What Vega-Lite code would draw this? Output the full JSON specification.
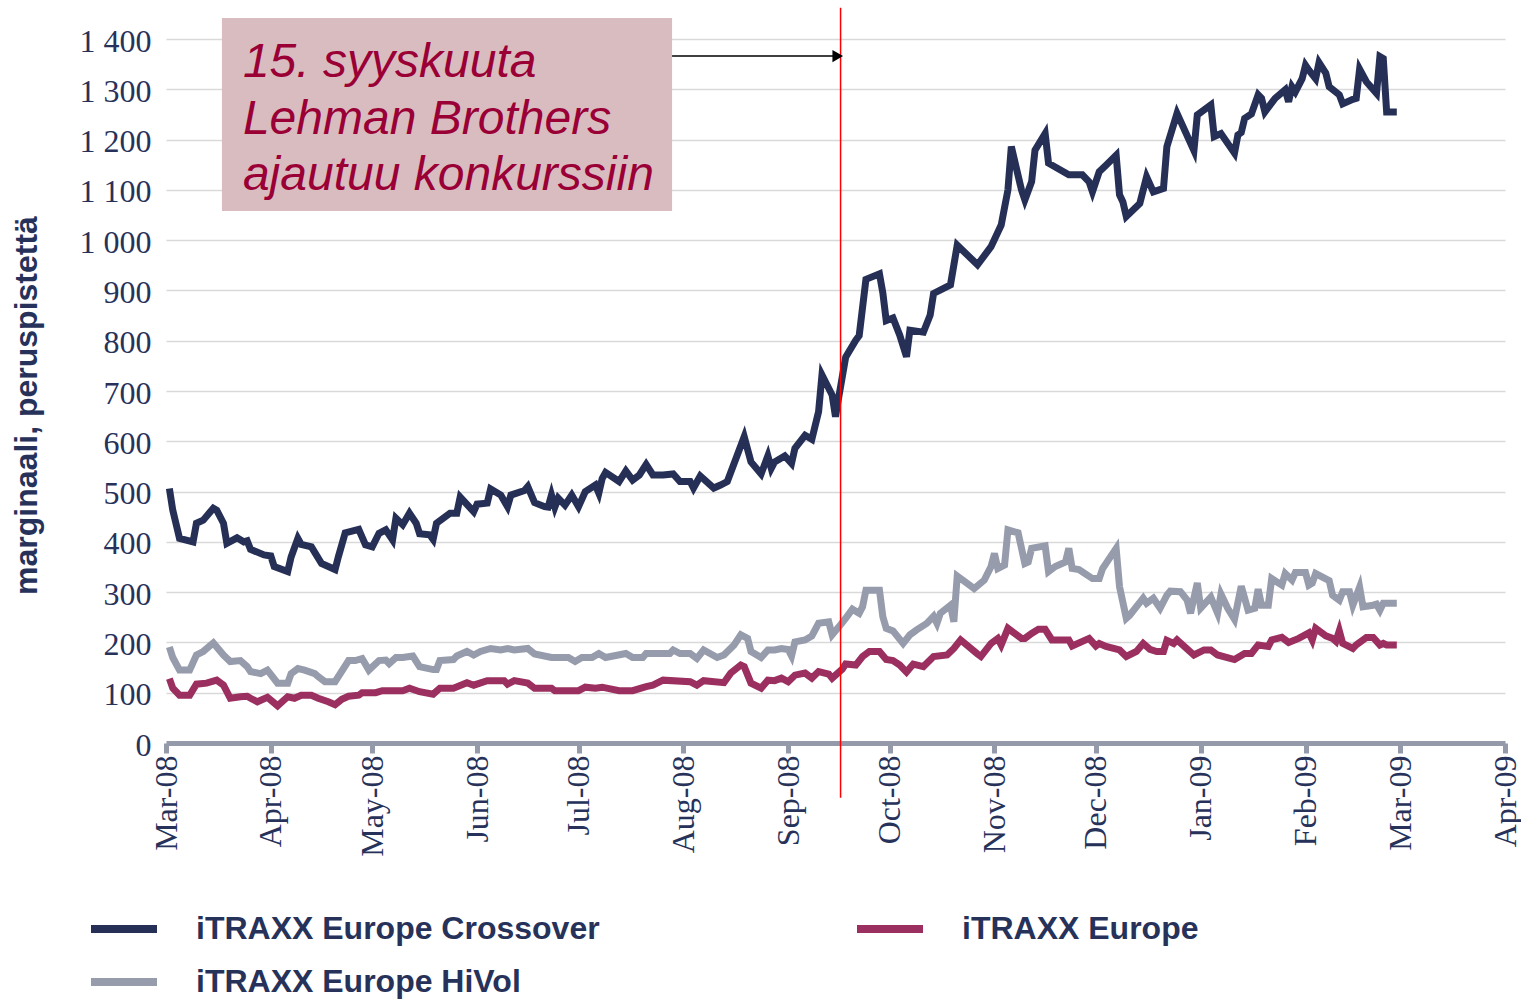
{
"$schema": "https://vega.github.io/schema/vega-lite/v6.json",
"width": 1339, "height": 704,
"autosize": {"type": "none"},
"padding": {"left": 166, "top": 39, "right": 16, "bottom": 262},
"background": "white",
"config": {"view": {"stroke": null}},
"datasets": {
"crossover": [
{"date":"2008-03-02","value":506},{"date":"2008-03-03","value":463},{"date":"2008-03-04","value":435},{"date":"2008-03-05","value":407},{"date":"2008-03-09","value":400},{"date":"2008-03-10","value":437},{"date":"2008-03-12","value":443},{"date":"2008-03-15","value":467},{"date":"2008-03-16","value":463},{"date":"2008-03-18","value":437},{"date":"2008-03-19","value":397},{"date":"2008-03-22","value":408},{"date":"2008-03-24","value":400},{"date":"2008-03-25","value":402},{"date":"2008-03-26","value":385},{"date":"2008-03-30","value":374},{"date":"2008-04-01","value":372},{"date":"2008-04-02","value":351},{"date":"2008-04-06","value":341},{"date":"2008-04-07","value":370},{"date":"2008-04-09","value":407},{"date":"2008-04-10","value":395},{"date":"2008-04-13","value":390},{"date":"2008-04-16","value":357},{"date":"2008-04-20","value":345},{"date":"2008-04-21","value":371},{"date":"2008-04-23","value":418},{"date":"2008-04-27","value":425},{"date":"2008-04-29","value":394},{"date":"2008-05-01","value":390},{"date":"2008-05-03","value":417},{"date":"2008-05-05","value":424},{"date":"2008-05-07","value":404},{"date":"2008-05-08","value":447},{"date":"2008-05-10","value":434},{"date":"2008-05-12","value":457},{"date":"2008-05-14","value":437},{"date":"2008-05-15","value":416},{"date":"2008-05-18","value":414},{"date":"2008-05-19","value":405},{"date":"2008-05-20","value":437},{"date":"2008-05-24","value":457},{"date":"2008-05-26","value":457},{"date":"2008-05-27","value":489},{"date":"2008-05-31","value":460},{"date":"2008-06-01","value":475},{"date":"2008-06-04","value":477},{"date":"2008-06-05","value":505},{"date":"2008-06-08","value":493},{"date":"2008-06-10","value":470},{"date":"2008-06-11","value":493},{"date":"2008-06-15","value":502},{"date":"2008-06-16","value":510},{"date":"2008-06-18","value":478},{"date":"2008-06-21","value":470},{"date":"2008-06-22","value":469},{"date":"2008-06-23","value":493},{"date":"2008-06-24","value":469},{"date":"2008-06-25","value":487},{"date":"2008-06-27","value":473},{"date":"2008-06-29","value":493},{"date":"2008-07-01","value":470},{"date":"2008-07-03","value":500},{"date":"2008-07-06","value":513},{"date":"2008-07-07","value":497},{"date":"2008-07-08","value":526},{"date":"2008-07-09","value":538},{"date":"2008-07-13","value":520},{"date":"2008-07-15","value":541},{"date":"2008-07-17","value":523},{"date":"2008-07-19","value":533},{"date":"2008-07-21","value":554},{"date":"2008-07-23","value":533},{"date":"2008-07-26","value":533},{"date":"2008-07-29","value":535},{"date":"2008-07-31","value":520},{"date":"2008-08-03","value":520},{"date":"2008-08-04","value":507},{"date":"2008-08-06","value":531},{"date":"2008-08-10","value":507},{"date":"2008-08-12","value":513},{"date":"2008-08-14","value":520},{"date":"2008-08-19","value":609},{"date":"2008-08-21","value":559},{"date":"2008-08-24","value":535},{"date":"2008-08-26","value":571},{"date":"2008-08-27","value":546},{"date":"2008-08-28","value":559},{"date":"2008-08-31","value":571},{"date":"2008-09-02","value":556},{"date":"2008-09-03","value":586},{"date":"2008-09-06","value":612},{"date":"2008-09-08","value":604},{"date":"2008-09-10","value":659},{"date":"2008-09-11","value":732},{"date":"2008-09-14","value":692},{"date":"2008-09-15","value":649},{"date":"2008-09-16","value":689},{"date":"2008-09-18","value":767},{"date":"2008-09-21","value":801},{"date":"2008-09-22","value":810},{"date":"2008-09-24","value":922},{"date":"2008-09-28","value":933},{"date":"2008-09-29","value":895},{"date":"2008-09-30","value":840},{"date":"2008-10-02","value":845},{"date":"2008-10-04","value":811},{"date":"2008-10-06","value":768},{"date":"2008-10-07","value":821},{"date":"2008-10-11","value":817},{"date":"2008-10-13","value":851},{"date":"2008-10-14","value":894},{"date":"2008-10-19","value":911},{"date":"2008-10-21","value":990},{"date":"2008-10-27","value":951},{"date":"2008-10-31","value":987},{"date":"2008-11-03","value":1030},{"date":"2008-11-05","value":1100},{"date":"2008-11-06","value":1186},{"date":"2008-11-09","value":1100},{"date":"2008-11-10","value":1080},{"date":"2008-11-12","value":1116},{"date":"2008-11-13","value":1179},{"date":"2008-11-16","value":1212},{"date":"2008-11-17","value":1153},{"date":"2008-11-23","value":1130},{"date":"2008-11-27","value":1130},{"date":"2008-11-29","value":1116},{"date":"2008-11-30","value":1096},{"date":"2008-12-02","value":1136},{"date":"2008-12-04","value":1149},{"date":"2008-12-07","value":1169},{"date":"2008-12-08","value":1090},{"date":"2008-12-09","value":1076},{"date":"2008-12-10","value":1047},{"date":"2008-12-14","value":1073},{"date":"2008-12-16","value":1126},{"date":"2008-12-18","value":1096},{"date":"2008-12-21","value":1103},{"date":"2008-12-22","value":1186},{"date":"2008-12-25","value":1252},{"date":"2008-12-30","value":1178},{"date":"2008-12-31","value":1249},{"date":"2009-01-04","value":1269},{"date":"2009-01-05","value":1206},{"date":"2009-01-07","value":1212},{"date":"2009-01-11","value":1173},{"date":"2009-01-12","value":1209},{"date":"2009-01-13","value":1214},{"date":"2009-01-14","value":1242},{"date":"2009-01-16","value":1251},{"date":"2009-01-18","value":1289},{"date":"2009-01-19","value":1282},{"date":"2009-01-20","value":1255},{"date":"2009-01-23","value":1282},{"date":"2009-01-26","value":1299},{"date":"2009-01-27","value":1275},{"date":"2009-01-28","value":1305},{"date":"2009-01-29","value":1295},{"date":"2009-01-31","value":1321},{"date":"2009-02-01","value":1348},{"date":"2009-02-02","value":1338},{"date":"2009-02-04","value":1321},{"date":"2009-02-05","value":1353},{"date":"2009-02-07","value":1332},{"date":"2009-02-08","value":1305},{"date":"2009-02-11","value":1289},{"date":"2009-02-12","value":1271},{"date":"2009-02-15","value":1280},{"date":"2009-02-16","value":1282},{"date":"2009-02-17","value":1340},{"date":"2009-02-19","value":1315},{"date":"2009-02-22","value":1292},{"date":"2009-02-23","value":1365},{"date":"2009-02-24","value":1361},{"date":"2009-02-25","value":1255},{"date":"2009-02-28","value":1255}
],
"europe": [
{"date":"2008-03-02","value":128},{"date":"2008-03-03","value":109},{"date":"2008-03-05","value":95},{"date":"2008-03-08","value":95},{"date":"2008-03-10","value":117},{"date":"2008-03-13","value":119},{"date":"2008-03-16","value":125},{"date":"2008-03-18","value":115},{"date":"2008-03-20","value":89},{"date":"2008-03-23","value":92},{"date":"2008-03-25","value":93},{"date":"2008-03-26","value":89},{"date":"2008-03-28","value":82},{"date":"2008-03-31","value":91},{"date":"2008-04-03","value":74},{"date":"2008-04-06","value":92},{"date":"2008-04-08","value":89},{"date":"2008-04-10","value":95},{"date":"2008-04-13","value":95},{"date":"2008-04-15","value":89},{"date":"2008-04-18","value":82},{"date":"2008-04-20","value":76},{"date":"2008-04-22","value":87},{"date":"2008-04-24","value":93},{"date":"2008-04-27","value":95},{"date":"2008-04-28","value":100},{"date":"2008-05-02","value":100},{"date":"2008-05-04","value":104},{"date":"2008-05-10","value":104},{"date":"2008-05-12","value":109},{"date":"2008-05-15","value":102},{"date":"2008-05-19","value":97},{"date":"2008-05-21","value":109},{"date":"2008-05-25","value":109},{"date":"2008-05-29","value":120},{"date":"2008-05-31","value":115},{"date":"2008-06-04","value":124},{"date":"2008-06-09","value":124},{"date":"2008-06-10","value":117},{"date":"2008-06-12","value":124},{"date":"2008-06-16","value":119},{"date":"2008-06-18","value":109},{"date":"2008-06-23","value":109},{"date":"2008-06-24","value":104},{"date":"2008-07-01","value":104},{"date":"2008-07-03","value":111},{"date":"2008-07-06","value":109},{"date":"2008-07-08","value":111},{"date":"2008-07-13","value":104},{"date":"2008-07-17","value":104},{"date":"2008-07-21","value":112},{"date":"2008-07-23","value":115},{"date":"2008-07-26","value":125},{"date":"2008-08-03","value":122},{"date":"2008-08-05","value":115},{"date":"2008-08-07","value":124},{"date":"2008-08-13","value":120},{"date":"2008-08-15","value":139},{"date":"2008-08-18","value":155},{"date":"2008-08-19","value":152},{"date":"2008-08-21","value":119},{"date":"2008-08-24","value":109},{"date":"2008-08-26","value":125},{"date":"2008-08-28","value":124},{"date":"2008-08-30","value":129},{"date":"2008-09-01","value":122},{"date":"2008-09-03","value":135},{"date":"2008-09-06","value":139},{"date":"2008-09-08","value":129},{"date":"2008-09-10","value":142},{"date":"2008-09-13","value":137},{"date":"2008-09-14","value":129},{"date":"2008-09-17","value":147},{"date":"2008-09-18","value":157},{"date":"2008-09-21","value":155},{"date":"2008-09-23","value":172},{"date":"2008-09-25","value":182},{"date":"2008-09-28","value":182},{"date":"2008-09-30","value":166},{"date":"2008-10-02","value":164},{"date":"2008-10-04","value":155},{"date":"2008-10-06","value":141},{"date":"2008-10-08","value":157},{"date":"2008-10-11","value":152},{"date":"2008-10-14","value":172},{"date":"2008-10-18","value":175},{"date":"2008-10-20","value":188},{"date":"2008-10-22","value":205},{"date":"2008-10-27","value":177},{"date":"2008-10-28","value":172},{"date":"2008-10-31","value":198},{"date":"2008-11-02","value":208},{"date":"2008-11-03","value":195},{"date":"2008-11-05","value":228},{"date":"2008-11-09","value":208},{"date":"2008-11-10","value":208},{"date":"2008-11-12","value":218},{"date":"2008-11-14","value":226},{"date":"2008-11-16","value":226},{"date":"2008-11-18","value":205},{"date":"2008-11-23","value":205},{"date":"2008-11-24","value":193},{"date":"2008-11-29","value":208},{"date":"2008-12-01","value":193},{"date":"2008-12-02","value":198},{"date":"2008-12-04","value":192},{"date":"2008-12-08","value":185},{"date":"2008-12-10","value":172},{"date":"2008-12-13","value":182},{"date":"2008-12-15","value":198},{"date":"2008-12-17","value":186},{"date":"2008-12-19","value":182},{"date":"2008-12-21","value":182},{"date":"2008-12-22","value":204},{"date":"2008-12-24","value":198},{"date":"2008-12-25","value":205},{"date":"2008-12-30","value":175},{"date":"2009-01-02","value":185},{"date":"2009-01-04","value":185},{"date":"2009-01-06","value":175},{"date":"2009-01-11","value":166},{"date":"2009-01-14","value":178},{"date":"2009-01-16","value":178},{"date":"2009-01-18","value":195},{"date":"2009-01-21","value":192},{"date":"2009-01-22","value":205},{"date":"2009-01-25","value":210},{"date":"2009-01-27","value":200},{"date":"2009-01-30","value":208},{"date":"2009-02-02","value":219},{"date":"2009-02-03","value":205},{"date":"2009-02-04","value":228},{"date":"2009-02-07","value":213},{"date":"2009-02-09","value":208},{"date":"2009-02-10","value":202},{"date":"2009-02-11","value":223},{"date":"2009-02-12","value":198},{"date":"2009-02-15","value":188},{"date":"2009-02-16","value":195},{"date":"2009-02-19","value":210},{"date":"2009-02-21","value":210},{"date":"2009-02-23","value":195},{"date":"2009-02-24","value":198},{"date":"2009-02-25","value":195},{"date":"2009-02-28","value":195}
],
"hivol": [
{"date":"2008-03-02","value":191},{"date":"2008-03-03","value":170},{"date":"2008-03-05","value":145},{"date":"2008-03-08","value":145},{"date":"2008-03-10","value":175},{"date":"2008-03-12","value":182},{"date":"2008-03-15","value":199},{"date":"2008-03-18","value":175},{"date":"2008-03-20","value":162},{"date":"2008-03-23","value":164},{"date":"2008-03-25","value":152},{"date":"2008-03-26","value":142},{"date":"2008-03-29","value":138},{"date":"2008-03-31","value":145},{"date":"2008-04-03","value":119},{"date":"2008-04-06","value":119},{"date":"2008-04-07","value":138},{"date":"2008-04-09","value":148},{"date":"2008-04-11","value":145},{"date":"2008-04-14","value":138},{"date":"2008-04-15","value":132},{"date":"2008-04-17","value":122},{"date":"2008-04-20","value":122},{"date":"2008-04-24","value":164},{"date":"2008-04-26","value":164},{"date":"2008-04-28","value":168},{"date":"2008-04-30","value":145},{"date":"2008-05-03","value":164},{"date":"2008-05-05","value":165},{"date":"2008-05-06","value":158},{"date":"2008-05-08","value":170},{"date":"2008-05-10","value":170},{"date":"2008-05-13","value":173},{"date":"2008-05-15","value":152},{"date":"2008-05-19","value":146},{"date":"2008-05-20","value":146},{"date":"2008-05-21","value":164},{"date":"2008-05-25","value":166},{"date":"2008-05-26","value":173},{"date":"2008-05-29","value":182},{"date":"2008-05-31","value":175},{"date":"2008-06-02","value":182},{"date":"2008-06-05","value":188},{"date":"2008-06-08","value":185},{"date":"2008-06-10","value":188},{"date":"2008-06-12","value":185},{"date":"2008-06-16","value":188},{"date":"2008-06-18","value":177},{"date":"2008-06-23","value":170},{"date":"2008-06-28","value":170},{"date":"2008-06-30","value":162},{"date":"2008-07-02","value":170},{"date":"2008-07-05","value":170},{"date":"2008-07-07","value":178},{"date":"2008-07-09","value":170},{"date":"2008-07-15","value":178},{"date":"2008-07-17","value":170},{"date":"2008-07-20","value":170},{"date":"2008-07-21","value":178},{"date":"2008-07-28","value":178},{"date":"2008-07-29","value":185},{"date":"2008-07-31","value":178},{"date":"2008-08-03","value":178},{"date":"2008-08-05","value":168},{"date":"2008-08-07","value":185},{"date":"2008-08-11","value":170},{"date":"2008-08-13","value":175},{"date":"2008-08-16","value":195},{"date":"2008-08-18","value":215},{"date":"2008-08-20","value":208},{"date":"2008-08-21","value":182},{"date":"2008-08-24","value":170},{"date":"2008-08-26","value":185},{"date":"2008-08-28","value":185},{"date":"2008-08-30","value":188},{"date":"2008-09-01","value":186},{"date":"2008-09-02","value":173},{"date":"2008-09-03","value":201},{"date":"2008-09-06","value":205},{"date":"2008-09-08","value":213},{"date":"2008-09-10","value":238},{"date":"2008-09-13","value":241},{"date":"2008-09-14","value":215},{"date":"2008-09-16","value":231},{"date":"2008-09-18","value":248},{"date":"2008-09-20","value":266},{"date":"2008-09-22","value":258},{"date":"2008-09-23","value":271},{"date":"2008-09-24","value":304},{"date":"2008-09-28","value":304},{"date":"2008-09-29","value":251},{"date":"2008-09-30","value":228},{"date":"2008-10-02","value":223},{"date":"2008-10-05","value":198},{"date":"2008-10-07","value":215},{"date":"2008-10-09","value":225},{"date":"2008-10-12","value":238},{"date":"2008-10-14","value":252},{"date":"2008-10-15","value":238},{"date":"2008-10-16","value":258},{"date":"2008-10-19","value":274},{"date":"2008-10-20","value":241},{"date":"2008-10-21","value":332},{"date":"2008-10-26","value":307},{"date":"2008-10-29","value":324},{"date":"2008-10-31","value":351},{"date":"2008-11-01","value":377},{"date":"2008-11-02","value":347},{"date":"2008-11-04","value":354},{"date":"2008-11-05","value":424},{"date":"2008-11-08","value":418},{"date":"2008-11-10","value":357},{"date":"2008-11-11","value":360},{"date":"2008-11-12","value":387},{"date":"2008-11-16","value":392},{"date":"2008-11-17","value":341},{"date":"2008-11-19","value":351},{"date":"2008-11-22","value":360},{"date":"2008-11-23","value":387},{"date":"2008-11-24","value":347},{"date":"2008-11-26","value":345},{"date":"2008-11-30","value":327},{"date":"2008-12-02","value":327},{"date":"2008-12-03","value":347},{"date":"2008-12-07","value":387},{"date":"2008-12-08","value":311},{"date":"2008-12-10","value":248},{"date":"2008-12-11","value":254},{"date":"2008-12-15","value":288},{"date":"2008-12-16","value":278},{"date":"2008-12-18","value":288},{"date":"2008-12-20","value":268},{"date":"2008-12-22","value":294},{"date":"2008-12-23","value":302},{"date":"2008-12-26","value":301},{"date":"2008-12-28","value":284},{"date":"2008-12-29","value":258},{"date":"2008-12-31","value":318},{"date":"2009-01-01","value":268},{"date":"2009-01-04","value":290},{"date":"2009-01-06","value":258},{"date":"2009-01-07","value":296},{"date":"2009-01-09","value":268},{"date":"2009-01-11","value":246},{"date":"2009-01-13","value":312},{"date":"2009-01-15","value":264},{"date":"2009-01-17","value":268},{"date":"2009-01-18","value":306},{"date":"2009-01-19","value":274},{"date":"2009-01-21","value":274},{"date":"2009-01-22","value":327},{"date":"2009-01-25","value":314},{"date":"2009-01-26","value":337},{"date":"2009-01-28","value":324},{"date":"2009-01-29","value":339},{"date":"2009-02-01","value":339},{"date":"2009-02-02","value":314},{"date":"2009-02-03","value":318},{"date":"2009-02-04","value":337},{"date":"2009-02-08","value":323},{"date":"2009-02-09","value":294},{"date":"2009-02-11","value":284},{"date":"2009-02-12","value":301},{"date":"2009-02-14","value":301},{"date":"2009-02-15","value":274},{"date":"2009-02-17","value":310},{"date":"2009-02-18","value":271},{"date":"2009-02-21","value":274},{"date":"2009-02-22","value":276},{"date":"2009-02-23","value":264},{"date":"2009-02-24","value":278},{"date":"2009-02-28","value":278}
]
},
"encoding": {
"x": {"field": "date", "type": "temporal",
 "scale": {"type": "utc", "domain": [{"year": 2008, "month": 3, "date": 1, "utc": true}, {"year": 2009, "month": 4, "date": 1, "utc": true}]},
 "axis": {"title": null, "labelExpr": "utcFormat(datum.value, '%b-%y')", "tickCount": {"interval": "month", "step": 1}, "labelAngle": -90, "labelFont": "Liberation Serif", "labelFontSize": 32, "labelColor": "#27325a", "domainColor": "#959aab", "domainWidth": 5, "tickColor": "#959aab", "tickWidth": 5, "tickSize": 10, "labelPadding": 2, "grid": false, "labelOverlap": false, "labelFlush": false}},
"y": {"field": "value", "type": "quantitative",
 "scale": {"domain": [0, 1400], "nice": false, "zero": true},
 "axis": {"values": [0,100,200,300,400,500,600,700,800,900,1000,1100,1200,1300,1400], "labelExpr": "replace(format(datum.value, ','), ',', ' ')", "labelFont": "Liberation Serif", "labelFontSize": 32, "labelColor": "#27325a", "ticks": false, "domain": false, "grid": true, "gridColor": "#d9d9d9", "gridWidth": 1.5, "labelPadding": 15, "labelOffset": 2, "title": "marginaali, peruspistettä", "titleFont": "Liberation Sans", "titleFontWeight": "bold", "titleFontSize": 32, "titleColor": "#27325a", "titleAngle": -90, "titleX": -140, "titleY": 366, "titleAlign": "center", "titleBaseline": "middle"}}
},
"layer": [
{"data": {"values": [{"date": "2008-03-17T13:00:00Z", "date2": "2008-07-28T16:00:00Z", "value": 1442, "value2": 1058}]},
 "mark": {"type": "rect", "color": "#d9bcc0"},
 "encoding": {"x2": {"field": "date2"}, "y2": {"field": "value2"}}},
{"data": {"values": [{"date": "2008-03-23T18:00:00Z", "value": 1324, "label": "15. syyskuuta"}, {"date": "2008-03-23T18:00:00Z", "value": 1211, "label": "Lehman Brothers"}, {"date": "2008-03-23T18:00:00Z", "value": 1099, "label": "ajautuu konkurssiin"}]},
 "mark": {"type": "text", "align": "left", "baseline": "alphabetic", "font": "Liberation Sans", "fontStyle": "italic", "fontSize": 48, "color": "#9a0036"},
 "encoding": {"text": {"field": "label"}}},
{"data": {"name": "crossover"}, "mark": {"type": "line", "strokeWidth": 7},
 "encoding": {"color": {"datum": "iTRAXX Europe Crossover", "type": "nominal",
  "scale": {"domain": ["iTRAXX Europe Crossover", "iTRAXX Europe", "iTRAXX Europe HiVol"], "range": ["#263056", "#9b3060", "#979cad"]},
  "legend": {"orient": "none", "legendX": -79, "legendY": 853, "columns": 2, "direction": "horizontal", "title": null, "symbolType": "stroke", "symbolSize": 4356, "symbolStrokeWidth": 8, "labelFont": "Liberation Sans", "labelFontWeight": "bold", "labelFontSize": 32, "labelColor": "#27325a", "labelOffset": 35, "labelLimit": 0, "columnPadding": 241, "rowPadding": -6, "gridAlign": "all"}}}},
{"data": {"name": "europe"}, "mark": {"type": "line", "strokeWidth": 7},
 "encoding": {"color": {"datum": "iTRAXX Europe", "type": "nominal"}}},
{"data": {"name": "hivol"}, "mark": {"type": "line", "strokeWidth": 7},
 "encoding": {"color": {"datum": "iTRAXX Europe HiVol", "type": "nominal"}}},
{"data": {"values": [{"date": "2008-09-16T12:00:00Z", "value": 1462, "value2": -109}]},
 "mark": {"type": "rule", "color": "#ff0000", "strokeWidth": 1.5},
 "encoding": {"y2": {"field": "value2"}}},
{"data": {"values": [{"date": "2008-07-28T16:00:00Z", "date2": "2008-09-15T06:00:00Z", "value": 1366}]},
 "mark": {"type": "rule", "color": "#000000", "strokeWidth": 1.5},
 "encoding": {"x2": {"field": "date2"}}},
{"data": {"values": [{"date": "2008-09-15T16:00:00Z", "value": 1366}]},
 "mark": {"type": "point", "shape": "triangle-right", "filled": true, "color": "#000000", "size": 150, "opacity": 1}}
]
}
